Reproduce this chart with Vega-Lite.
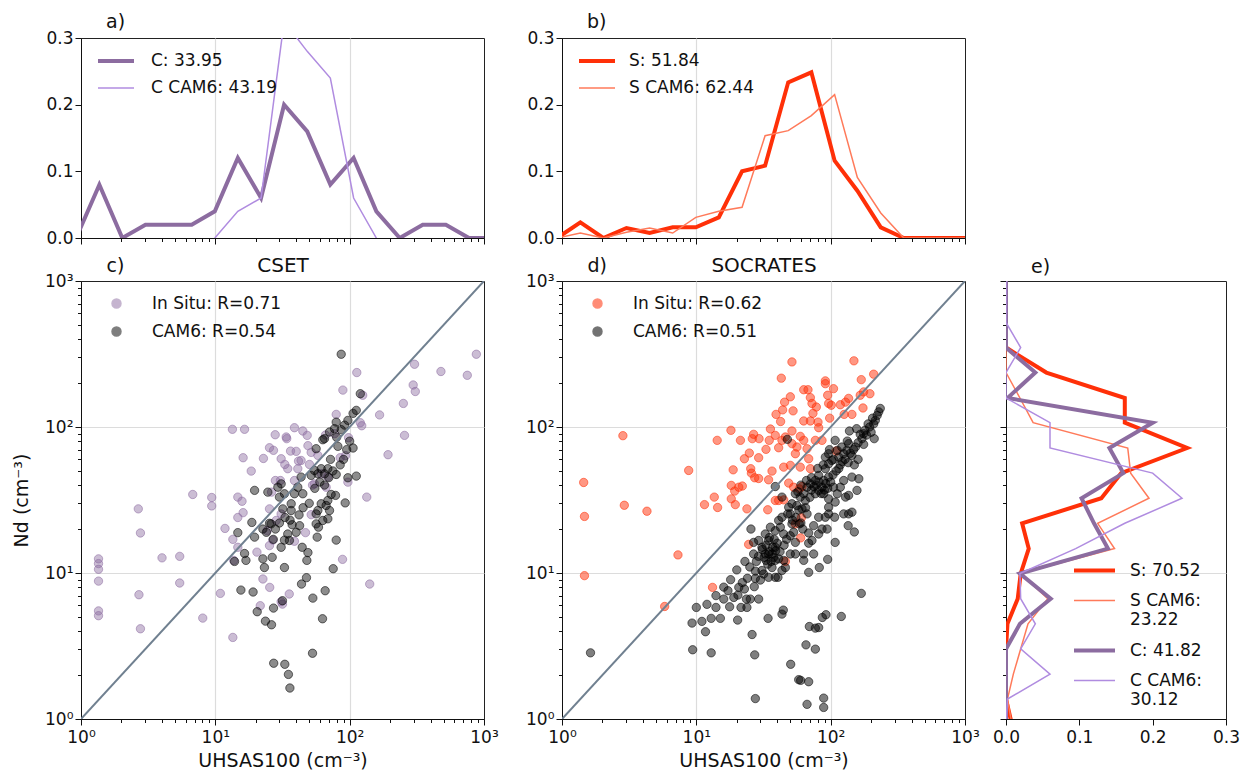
{
  "$schema": "https://vega.github.io/schema/vega-lite/v6.json",
  "background": "white",
  "padding": {"left": 12, "top": 12, "right": 0, "bottom": 0},
  "datasets": {
    "uhsasHist": [
      {"campaign": "CSET", "series": "C: 33.95", "uhsas": 0.92, "fraction": 0},
      {"campaign": "CSET", "series": "C: 33.95", "uhsas": 1.37, "fraction": 0.08},
      {"campaign": "CSET", "series": "C: 33.95", "uhsas": 2.03, "fraction": 0},
      {"campaign": "CSET", "series": "C: 33.95", "uhsas": 3.02, "fraction": 0.02},
      {"campaign": "CSET", "series": "C: 33.95", "uhsas": 4.49, "fraction": 0.02},
      {"campaign": "CSET", "series": "C: 33.95", "uhsas": 6.67, "fraction": 0.02},
      {"campaign": "CSET", "series": "C: 33.95", "uhsas": 9.91, "fraction": 0.04},
      {"campaign": "CSET", "series": "C: 33.95", "uhsas": 14.7, "fraction": 0.12},
      {"campaign": "CSET", "series": "C: 33.95", "uhsas": 21.9, "fraction": 0.06},
      {"campaign": "CSET", "series": "C: 33.95", "uhsas": 32.5, "fraction": 0.2},
      {"campaign": "CSET", "series": "C: 33.95", "uhsas": 48.3, "fraction": 0.16},
      {"campaign": "CSET", "series": "C: 33.95", "uhsas": 71.8, "fraction": 0.08},
      {"campaign": "CSET", "series": "C: 33.95", "uhsas": 107, "fraction": 0.12},
      {"campaign": "CSET", "series": "C: 33.95", "uhsas": 158, "fraction": 0.04},
      {"campaign": "CSET", "series": "C: 33.95", "uhsas": 236, "fraction": 0},
      {"campaign": "CSET", "series": "C: 33.95", "uhsas": 350, "fraction": 0.02},
      {"campaign": "CSET", "series": "C: 33.95", "uhsas": 520, "fraction": 0.02},
      {"campaign": "CSET", "series": "C: 33.95", "uhsas": 773, "fraction": 0},
      {"campaign": "CSET", "series": "C: 33.95", "uhsas": 1148, "fraction": 0},
      {"campaign": "CSET", "series": "C CAM6: 43.19", "uhsas": 9.91, "fraction": 0},
      {"campaign": "CSET", "series": "C CAM6: 43.19", "uhsas": 14.7, "fraction": 0.04},
      {"campaign": "CSET", "series": "C CAM6: 43.19", "uhsas": 21.9, "fraction": 0.06},
      {"campaign": "CSET", "series": "C CAM6: 43.19", "uhsas": 32.5, "fraction": 0.325},
      {"campaign": "CSET", "series": "C CAM6: 43.19", "uhsas": 48.3, "fraction": 0.28},
      {"campaign": "CSET", "series": "C CAM6: 43.19", "uhsas": 71.8, "fraction": 0.24},
      {"campaign": "CSET", "series": "C CAM6: 43.19", "uhsas": 107, "fraction": 0.06},
      {"campaign": "CSET", "series": "C CAM6: 43.19", "uhsas": 158, "fraction": 0},
      {"campaign": "SOCRATES", "series": "S: 51.84", "uhsas": 0.92, "fraction": 0},
      {"campaign": "SOCRATES", "series": "S: 51.84", "uhsas": 1.37, "fraction": 0.0235},
      {"campaign": "SOCRATES", "series": "S: 51.84", "uhsas": 2.03, "fraction": 0},
      {"campaign": "SOCRATES", "series": "S: 51.84", "uhsas": 3.02, "fraction": 0.015},
      {"campaign": "SOCRATES", "series": "S: 51.84", "uhsas": 4.49, "fraction": 0.0075},
      {"campaign": "SOCRATES", "series": "S: 51.84", "uhsas": 6.67, "fraction": 0.016},
      {"campaign": "SOCRATES", "series": "S: 51.84", "uhsas": 9.91, "fraction": 0.016},
      {"campaign": "SOCRATES", "series": "S: 51.84", "uhsas": 14.7, "fraction": 0.031},
      {"campaign": "SOCRATES", "series": "S: 51.84", "uhsas": 21.9, "fraction": 0.1},
      {"campaign": "SOCRATES", "series": "S: 51.84", "uhsas": 32.5, "fraction": 0.1085},
      {"campaign": "SOCRATES", "series": "S: 51.84", "uhsas": 48.3, "fraction": 0.2335},
      {"campaign": "SOCRATES", "series": "S: 51.84", "uhsas": 71.8, "fraction": 0.2485},
      {"campaign": "SOCRATES", "series": "S: 51.84", "uhsas": 107, "fraction": 0.116},
      {"campaign": "SOCRATES", "series": "S: 51.84", "uhsas": 158, "fraction": 0.071},
      {"campaign": "SOCRATES", "series": "S: 51.84", "uhsas": 236, "fraction": 0.016},
      {"campaign": "SOCRATES", "series": "S: 51.84", "uhsas": 350, "fraction": 0},
      {"campaign": "SOCRATES", "series": "S: 51.84", "uhsas": 520, "fraction": 0},
      {"campaign": "SOCRATES", "series": "S: 51.84", "uhsas": 773, "fraction": 0},
      {"campaign": "SOCRATES", "series": "S: 51.84", "uhsas": 1148, "fraction": 0},
      {"campaign": "SOCRATES", "series": "S CAM6: 62.44", "uhsas": 0.92, "fraction": 0},
      {"campaign": "SOCRATES", "series": "S CAM6: 62.44", "uhsas": 1.37, "fraction": 0.0075},
      {"campaign": "SOCRATES", "series": "S CAM6: 62.44", "uhsas": 2.03, "fraction": 0},
      {"campaign": "SOCRATES", "series": "S CAM6: 62.44", "uhsas": 3.02, "fraction": 0.0085},
      {"campaign": "SOCRATES", "series": "S CAM6: 62.44", "uhsas": 4.49, "fraction": 0.015},
      {"campaign": "SOCRATES", "series": "S CAM6: 62.44", "uhsas": 6.67, "fraction": 0.0075},
      {"campaign": "SOCRATES", "series": "S CAM6: 62.44", "uhsas": 9.91, "fraction": 0.031},
      {"campaign": "SOCRATES", "series": "S CAM6: 62.44", "uhsas": 14.7, "fraction": 0.04},
      {"campaign": "SOCRATES", "series": "S CAM6: 62.44", "uhsas": 21.9, "fraction": 0.046},
      {"campaign": "SOCRATES", "series": "S CAM6: 62.44", "uhsas": 32.5, "fraction": 0.1535},
      {"campaign": "SOCRATES", "series": "S CAM6: 62.44", "uhsas": 48.3, "fraction": 0.161},
      {"campaign": "SOCRATES", "series": "S CAM6: 62.44", "uhsas": 71.8, "fraction": 0.1835},
      {"campaign": "SOCRATES", "series": "S CAM6: 62.44", "uhsas": 107, "fraction": 0.215},
      {"campaign": "SOCRATES", "series": "S CAM6: 62.44", "uhsas": 158, "fraction": 0.091},
      {"campaign": "SOCRATES", "series": "S CAM6: 62.44", "uhsas": 236, "fraction": 0.0375},
      {"campaign": "SOCRATES", "series": "S CAM6: 62.44", "uhsas": 350, "fraction": 0},
      {"campaign": "SOCRATES", "series": "S CAM6: 62.44", "uhsas": 520, "fraction": 0},
      {"campaign": "SOCRATES", "series": "S CAM6: 62.44", "uhsas": 773, "fraction": 0},
      {"campaign": "SOCRATES", "series": "S CAM6: 62.44", "uhsas": 1148, "fraction": 0}
    ],
    "ndHist": [
      {"series": "S: 70.52", "nd": 0.92, "fraction": 0.008},
      {"series": "S: 70.52", "nd": 1.37, "fraction": 0},
      {"series": "S: 70.52", "nd": 2.03, "fraction": 0},
      {"series": "S: 70.52", "nd": 3.02, "fraction": 0},
      {"series": "S: 70.52", "nd": 4.49, "fraction": 0.002},
      {"series": "S: 70.52", "nd": 6.67, "fraction": 0.016},
      {"series": "S: 70.52", "nd": 9.91, "fraction": 0.02},
      {"series": "S: 70.52", "nd": 14.7, "fraction": 0.031},
      {"series": "S: 70.52", "nd": 21.9, "fraction": 0.022},
      {"series": "S: 70.52", "nd": 32.5, "fraction": 0.13},
      {"series": "S: 70.52", "nd": 48.3, "fraction": 0.157},
      {"series": "S: 70.52", "nd": 71.8, "fraction": 0.247},
      {"series": "S: 70.52", "nd": 107, "fraction": 0.162},
      {"series": "S: 70.52", "nd": 158, "fraction": 0.162},
      {"series": "S: 70.52", "nd": 236, "fraction": 0.055},
      {"series": "S: 70.52", "nd": 350, "fraction": 0},
      {"series": "S: 70.52", "nd": 520, "fraction": 0},
      {"series": "S: 70.52", "nd": 773, "fraction": 0},
      {"series": "S: 70.52", "nd": 1148, "fraction": 0},
      {"series": "S CAM6: 23.22", "nd": 0.92, "fraction": 0.008},
      {"series": "S CAM6: 23.22", "nd": 1.37, "fraction": 0.002},
      {"series": "S CAM6: 23.22", "nd": 2.03, "fraction": 0.01},
      {"series": "S CAM6: 23.22", "nd": 3.02, "fraction": 0.02},
      {"series": "S CAM6: 23.22", "nd": 4.49, "fraction": 0.03},
      {"series": "S CAM6: 23.22", "nd": 6.67, "fraction": 0.057},
      {"series": "S CAM6: 23.22", "nd": 9.91, "fraction": 0.02},
      {"series": "S CAM6: 23.22", "nd": 14.7, "fraction": 0.148},
      {"series": "S CAM6: 23.22", "nd": 21.9, "fraction": 0.125},
      {"series": "S CAM6: 23.22", "nd": 32.5, "fraction": 0.195},
      {"series": "S CAM6: 23.22", "nd": 48.3, "fraction": 0.17},
      {"series": "S CAM6: 23.22", "nd": 71.8, "fraction": 0.166},
      {"series": "S CAM6: 23.22", "nd": 107, "fraction": 0.037},
      {"series": "S CAM6: 23.22", "nd": 158, "fraction": 0.019},
      {"series": "S CAM6: 23.22", "nd": 236, "fraction": 0},
      {"series": "S CAM6: 23.22", "nd": 350, "fraction": 0},
      {"series": "S CAM6: 23.22", "nd": 520, "fraction": 0},
      {"series": "S CAM6: 23.22", "nd": 773, "fraction": 0},
      {"series": "S CAM6: 23.22", "nd": 1148, "fraction": 0},
      {"series": "C: 41.82", "nd": 0.92, "fraction": 0},
      {"series": "C: 41.82", "nd": 1.37, "fraction": 0},
      {"series": "C: 41.82", "nd": 2.03, "fraction": 0},
      {"series": "C: 41.82", "nd": 3.02, "fraction": 0},
      {"series": "C: 41.82", "nd": 4.49, "fraction": 0.019},
      {"series": "C: 41.82", "nd": 6.67, "fraction": 0.061},
      {"series": "C: 41.82", "nd": 9.91, "fraction": 0.019},
      {"series": "C: 41.82", "nd": 14.7, "fraction": 0.139},
      {"series": "C: 41.82", "nd": 21.9, "fraction": 0.12},
      {"series": "C: 41.82", "nd": 32.5, "fraction": 0.103},
      {"series": "C: 41.82", "nd": 48.3, "fraction": 0.16},
      {"series": "C: 41.82", "nd": 71.8, "fraction": 0.141},
      {"series": "C: 41.82", "nd": 107, "fraction": 0.2},
      {"series": "C: 41.82", "nd": 158, "fraction": 0.002},
      {"series": "C: 41.82", "nd": 236, "fraction": 0.04},
      {"series": "C: 41.82", "nd": 350, "fraction": 0},
      {"series": "C: 41.82", "nd": 520, "fraction": 0},
      {"series": "C: 41.82", "nd": 773, "fraction": 0},
      {"series": "C: 41.82", "nd": 1148, "fraction": 0},
      {"series": "C CAM6: 30.12", "nd": 0.92, "fraction": 0},
      {"series": "C CAM6: 30.12", "nd": 1.37, "fraction": 0.002},
      {"series": "C CAM6: 30.12", "nd": 2.03, "fraction": 0.06},
      {"series": "C CAM6: 30.12", "nd": 3.02, "fraction": 0.02},
      {"series": "C CAM6: 30.12", "nd": 4.49, "fraction": 0.04},
      {"series": "C CAM6: 30.12", "nd": 6.67, "fraction": 0.02},
      {"series": "C CAM6: 30.12", "nd": 9.91, "fraction": 0.019},
      {"series": "C CAM6: 30.12", "nd": 14.7, "fraction": 0.095},
      {"series": "C CAM6: 30.12", "nd": 21.9, "fraction": 0.162},
      {"series": "C CAM6: 30.12", "nd": 32.5, "fraction": 0.24},
      {"series": "C CAM6: 30.12", "nd": 48.3, "fraction": 0.2},
      {"series": "C CAM6: 30.12", "nd": 71.8, "fraction": 0.06},
      {"series": "C CAM6: 30.12", "nd": 107, "fraction": 0.06},
      {"series": "C CAM6: 30.12", "nd": 158, "fraction": 0},
      {"series": "C CAM6: 30.12", "nd": 236, "fraction": 0},
      {"series": "C CAM6: 30.12", "nd": 350, "fraction": 0.02},
      {"series": "C CAM6: 30.12", "nd": 520, "fraction": 0},
      {"series": "C CAM6: 30.12", "nd": 773, "fraction": 0},
      {"series": "C CAM6: 30.12", "nd": 1148, "fraction": 0}
    ],
    "identity": [{"v": 1}, {"v": 1000}],
    "csetInSitu": [
      {"uhsas": 1.35, "nd": 12.5}, {"uhsas": 1.35, "nd": 11.6}, {"uhsas": 1.35, "nd": 10.6}, {"uhsas": 1.35, "nd": 8.8}, {"uhsas": 1.35, "nd": 5.5}, {"uhsas": 1.35, "nd": 5.1},
      {"uhsas": 2.67, "nd": 27.5}, {"uhsas": 2.77, "nd": 18.8}, {"uhsas": 2.7, "nd": 7.1}, {"uhsas": 2.77, "nd": 4.15},
      {"uhsas": 4.01, "nd": 12.7}, {"uhsas": 5.43, "nd": 13.0}, {"uhsas": 5.43, "nd": 8.54},
      {"uhsas": 6.79, "nd": 34.5}, {"uhsas": 9.4, "nd": 32.9}, {"uhsas": 9.4, "nd": 28.8}, {"uhsas": 8.06, "nd": 4.91},
      {"uhsas": 10.9, "nd": 7.25}, {"uhsas": 11.8, "nd": 20.2}, {"uhsas": 13.5, "nd": 3.62}, {"uhsas": 13.5, "nd": 17.0}, {"uhsas": 13.7, "nd": 12.2}, {"uhsas": 14.7, "nd": 15.0}, {"uhsas": 13.4, "nd": 96.4}, {"uhsas": 16.5, "nd": 96.4}, {"uhsas": 16.1, "nd": 61.6}, {"uhsas": 18.5, "nd": 49.9}, {"uhsas": 14.7, "nd": 33.1}, {"uhsas": 15.8, "nd": 31.0}, {"uhsas": 16.1, "nd": 25.9}, {"uhsas": 14.7, "nd": 24.0},
      {"uhsas": 20.4, "nd": 13.9}, {"uhsas": 21.6, "nd": 5.97}, {"uhsas": 22.8, "nd": 60.9}, {"uhsas": 24.3, "nd": 19.5}, {"uhsas": 25.4, "nd": 7.97}, {"uhsas": 25.3, "nd": 72.1}, {"uhsas": 27.1, "nd": 69.2}, {"uhsas": 27.9, "nd": 88.5}, {"uhsas": 26.8, "nd": 16.8}, {"uhsas": 25.3, "nd": 15.4},
      {"uhsas": 30.9, "nd": 60.6}, {"uhsas": 31.6, "nd": 6.12}, {"uhsas": 32.9, "nd": 55.4}, {"uhsas": 33.7, "nd": 85.4}, {"uhsas": 34.0, "nd": 83.2}, {"uhsas": 35.5, "nd": 7.18}, {"uhsas": 36.3, "nd": 68.4}, {"uhsas": 38.8, "nd": 98.9}, {"uhsas": 40.0, "nd": 68.1}, {"uhsas": 41.6, "nd": 58.4},
      {"uhsas": 44.8, "nd": 93.9}, {"uhsas": 48.3, "nd": 87.6}, {"uhsas": 48.9, "nd": 74.5}, {"uhsas": 51.7, "nd": 67.0}, {"uhsas": 50.2, "nd": 55.4}, {"uhsas": 38.8, "nd": 16.5}, {"uhsas": 46.9, "nd": 18.9}, {"uhsas": 51.7, "nd": 25.1}, {"uhsas": 52.9, "nd": 40.0}, {"uhsas": 58.0, "nd": 63.9},
      {"uhsas": 66.1, "nd": 88.1}, {"uhsas": 79.4, "nd": 122}, {"uhsas": 89.0, "nd": 179}, {"uhsas": 113, "nd": 236}, {"uhsas": 125, "nd": 165}, {"uhsas": 88.5, "nd": 12.4}, {"uhsas": 85.0, "nd": 61.6}, {"uhsas": 93.1, "nd": 63.6}, {"uhsas": 98.1, "nd": 84.5}, {"uhsas": 120, "nd": 107},
      {"uhsas": 123, "nd": 102}, {"uhsas": 167, "nd": 121}, {"uhsas": 251, "nd": 145}, {"uhsas": 297, "nd": 194}, {"uhsas": 308, "nd": 175}, {"uhsas": 304, "nd": 269}, {"uhsas": 478, "nd": 240}, {"uhsas": 751, "nd": 226}, {"uhsas": 877, "nd": 315}, {"uhsas": 256, "nd": 87.6},
      {"uhsas": 193, "nd": 64.6}, {"uhsas": 134, "nd": 33.1}, {"uhsas": 141, "nd": 8.4}, {"uhsas": 30.5, "nd": 43.0}, {"uhsas": 28.0, "nd": 43.0}, {"uhsas": 26.2, "nd": 35.8}, {"uhsas": 25.3, "nd": 27.5}, {"uhsas": 28.4, "nd": 22.9}, {"uhsas": 30.9, "nd": 25.4}, {"uhsas": 38.8, "nd": 43.0},
      {"uhsas": 68.8, "nd": 45.4}, {"uhsas": 66.8, "nd": 38.7}, {"uhsas": 97.0, "nd": 41.9}, {"uhsas": 34.6, "nd": 51.8}, {"uhsas": 41.1, "nd": 51.8}, {"uhsas": 43.5, "nd": 59.0}, {"uhsas": 54.7, "nd": 40.8}, {"uhsas": 61.4, "nd": 47.8}, {"uhsas": 77.1, "nd": 90.0}, {"uhsas": 22.6, "nd": 9.1},
      {"uhsas": 30.9, "nd": 6.36}
    ],
    "csetCam6": [
      {"uhsas": 86.5, "nd": 315}, {"uhsas": 120, "nd": 169}, {"uhsas": 112, "nd": 130}, {"uhsas": 106, "nd": 124}, {"uhsas": 97.0, "nd": 111}, {"uhsas": 91.6, "nd": 103}, {"uhsas": 86.5, "nd": 95.9}, {"uhsas": 79.4, "nd": 108}, {"uhsas": 77.1, "nd": 97.4}, {"uhsas": 70.8, "nd": 92.4},
      {"uhsas": 65.0, "nd": 83.2}, {"uhsas": 63.1, "nd": 81.8}, {"uhsas": 81.7, "nd": 73.7}, {"uhsas": 106, "nd": 71.8}, {"uhsas": 56.3, "nd": 71.0}, {"uhsas": 54.7, "nd": 50.4}, {"uhsas": 61.4, "nd": 51.8}, {"uhsas": 68.8, "nd": 51.8}, {"uhsas": 79.4, "nd": 47.3}, {"uhsas": 97.0, "nd": 44.9},
      {"uhsas": 112, "nd": 46.1}, {"uhsas": 51.7, "nd": 46.6}, {"uhsas": 43.5, "nd": 45.4}, {"uhsas": 41.1, "nd": 38.7}, {"uhsas": 44.8, "nd": 34.9}, {"uhsas": 38.8, "nd": 34.9}, {"uhsas": 30.9, "nd": 40.8}, {"uhsas": 29.2, "nd": 38.7}, {"uhsas": 32.7, "nd": 34.9}, {"uhsas": 30.0, "nd": 33.1},
      {"uhsas": 19.6, "nd": 36.8}, {"uhsas": 36.7, "nd": 29.8}, {"uhsas": 36.7, "nd": 26.8}, {"uhsas": 31.8, "nd": 27.5}, {"uhsas": 25.3, "nd": 21.9}, {"uhsas": 26.0, "nd": 21.7}, {"uhsas": 22.6, "nd": 20.0}, {"uhsas": 19.6, "nd": 17.6}, {"uhsas": 18.7, "nd": 22.2}, {"uhsas": 14.7, "nd": 18.9},
      {"uhsas": 16.5, "nd": 13.6}, {"uhsas": 16.9, "nd": 12.2}, {"uhsas": 13.9, "nd": 12.0}, {"uhsas": 22.6, "nd": 12.5}, {"uhsas": 23.2, "nd": 10.9}, {"uhsas": 26.5, "nd": 12.8}, {"uhsas": 30.9, "nd": 15.0}, {"uhsas": 32.7, "nd": 10.9}, {"uhsas": 37.3, "nd": 21.4}, {"uhsas": 42.4, "nd": 21.1},
      {"uhsas": 40.0, "nd": 19.0}, {"uhsas": 34.6, "nd": 18.5}, {"uhsas": 35.6, "nd": 16.7}, {"uhsas": 32.7, "nd": 16.8}, {"uhsas": 44.3, "nd": 15.0}, {"uhsas": 48.9, "nd": 13.8}, {"uhsas": 48.0, "nd": 12.2}, {"uhsas": 57.3, "nd": 17.6}, {"uhsas": 58.6, "nd": 20.6}, {"uhsas": 63.1, "nd": 22.9},
      {"uhsas": 56.3, "nd": 25.4}, {"uhsas": 58.0, "nd": 26.8}, {"uhsas": 61.4, "nd": 29.8}, {"uhsas": 68.8, "nd": 31.4}, {"uhsas": 70.8, "nd": 26.8}, {"uhsas": 68.8, "nd": 23.5}, {"uhsas": 72.8, "nd": 34.5}, {"uhsas": 78.5, "nd": 34.0}, {"uhsas": 79.4, "nd": 16.8}, {"uhsas": 92.6, "nd": 30.2},
      {"uhsas": 75.4, "nd": 10.7}, {"uhsas": 47.7, "nd": 9.29}, {"uhsas": 43.8, "nd": 8.4}, {"uhsas": 65.7, "nd": 7.56}, {"uhsas": 53.2, "nd": 6.73}, {"uhsas": 31.6, "nd": 6.46}, {"uhsas": 27.1, "nd": 5.75}, {"uhsas": 20.5, "nd": 5.43}, {"uhsas": 23.6, "nd": 4.68}, {"uhsas": 26.2, "nd": 4.42},
      {"uhsas": 62.8, "nd": 4.86}, {"uhsas": 15.5, "nd": 7.64}, {"uhsas": 19.1, "nd": 7.41}, {"uhsas": 52.9, "nd": 2.82}, {"uhsas": 27.2, "nd": 2.41}, {"uhsas": 32.9, "nd": 2.37}, {"uhsas": 35.0, "nd": 2.02}, {"uhsas": 35.9, "nd": 1.63}, {"uhsas": 66.8, "nd": 29.0}, {"uhsas": 56.3, "nd": 21.7},
      {"uhsas": 24.6, "nd": 35.8}, {"uhsas": 58.0, "nd": 47.8}, {"uhsas": 65.0, "nd": 47.8},
      {"uhsas": 65, "nd": 40}, {"uhsas": 70, "nd": 45}, {"uhsas": 75, "nd": 50}, {"uhsas": 85, "nd": 55}, {"uhsas": 90, "nd": 60}, {"uhsas": 95, "nd": 70}, {"uhsas": 100, "nd": 80}, {"uhsas": 72, "nd": 60}, {"uhsas": 60, "nd": 42}, {"uhsas": 55, "nd": 38},
      {"uhsas": 50, "nd": 30}, {"uhsas": 45, "nd": 28}, {"uhsas": 42, "nd": 25}, {"uhsas": 28, "nd": 20}, {"uhsas": 30, "nd": 22}, {"uhsas": 33, "nd": 24}, {"uhsas": 24, "nd": 19}, {"uhsas": 27, "nd": 17}, {"uhsas": 36, "nd": 23}, {"uhsas": 80, "nd": 85}
    ],
    "socratesInSitu": [
      {"uhsas": 1.45, "nd": 41.7}, {"uhsas": 1.47, "nd": 24.4}, {"uhsas": 1.47, "nd": 9.59}, {"uhsas": 2.84, "nd": 87.2}, {"uhsas": 2.91, "nd": 29.1}, {"uhsas": 4.29, "nd": 26.5}, {"uhsas": 7.3, "nd": 13.3}, {"uhsas": 8.77, "nd": 50.4}, {"uhsas": 5.81, "nd": 5.9}, {"uhsas": 13.2, "nd": 7.97},
      {"uhsas": 11.5, "nd": 29.4}, {"uhsas": 13.6, "nd": 33.1}, {"uhsas": 14.4, "nd": 28.1}, {"uhsas": 14.3, "nd": 81.0}, {"uhsas": 18.1, "nd": 94.9}, {"uhsas": 18.8, "nd": 50.9}, {"uhsas": 18.2, "nd": 39.8}, {"uhsas": 19.3, "nd": 36.4}, {"uhsas": 18.2, "nd": 32.2}, {"uhsas": 19.5, "nd": 29.4},
      {"uhsas": 22.0, "nd": 39.4}, {"uhsas": 20.7, "nd": 38.7}, {"uhsas": 21.3, "nd": 81.0}, {"uhsas": 22.8, "nd": 60.6}, {"uhsas": 23.8, "nd": 27.5}, {"uhsas": 24.5, "nd": 15.7}, {"uhsas": 24.8, "nd": 66.3}, {"uhsas": 25.4, "nd": 51.8}, {"uhsas": 26.1, "nd": 83.2}, {"uhsas": 26.7, "nd": 89.1},
      {"uhsas": 29.3, "nd": 83.2}, {"uhsas": 29.1, "nd": 61.6}, {"uhsas": 27.2, "nd": 44.9}, {"uhsas": 29.1, "nd": 44.4}, {"uhsas": 25.7, "nd": 48.3}, {"uhsas": 34.5, "nd": 43.5}, {"uhsas": 36.6, "nd": 49.9}, {"uhsas": 33.0, "nd": 70.3}, {"uhsas": 34.9, "nd": 81.0}, {"uhsas": 35.6, "nd": 96.9},
      {"uhsas": 38.7, "nd": 87.6}, {"uhsas": 41.0, "nd": 72.1}, {"uhsas": 42.4, "nd": 109}, {"uhsas": 39.2, "nd": 122}, {"uhsas": 43.9, "nd": 131}, {"uhsas": 45.4, "nd": 148}, {"uhsas": 50.1, "nd": 161}, {"uhsas": 52.5, "nd": 129}, {"uhsas": 51.5, "nd": 93.9}, {"uhsas": 42.9, "nd": 216},
      {"uhsas": 51.5, "nd": 279}, {"uhsas": 43.4, "nd": 81.0}, {"uhsas": 46.0, "nd": 85.4}, {"uhsas": 51.5, "nd": 76.9}, {"uhsas": 56.1, "nd": 72.9}, {"uhsas": 54.6, "nd": 65.6}, {"uhsas": 59.4, "nd": 86.3}, {"uhsas": 63.0, "nd": 81.0}, {"uhsas": 66.7, "nd": 71.0}, {"uhsas": 68.6, "nd": 60.6},
      {"uhsas": 70.6, "nd": 51.8}, {"uhsas": 59.4, "nd": 53.1}, {"uhsas": 50.1, "nd": 54.6}, {"uhsas": 44.7, "nd": 53.1}, {"uhsas": 48.7, "nd": 41.3}, {"uhsas": 53.0, "nd": 38.7}, {"uhsas": 58.4, "nd": 37.7}, {"uhsas": 61.2, "nd": 39.1}, {"uhsas": 34.0, "nd": 27.1}, {"uhsas": 38.7, "nd": 31.4},
      {"uhsas": 41.0, "nd": 31.4}, {"uhsas": 44.7, "nd": 31.7}, {"uhsas": 54.6, "nd": 21.7}, {"uhsas": 60.5, "nd": 23.9}, {"uhsas": 59.8, "nd": 17.4}, {"uhsas": 46.0, "nd": 12.0}, {"uhsas": 63.0, "nd": 180}, {"uhsas": 67.8, "nd": 180}, {"uhsas": 70.6, "nd": 159}, {"uhsas": 72.6, "nd": 145},
      {"uhsas": 78.2, "nd": 137}, {"uhsas": 73.8, "nd": 124}, {"uhsas": 63.0, "nd": 110}, {"uhsas": 70.6, "nd": 110}, {"uhsas": 80.5, "nd": 108}, {"uhsas": 81.4, "nd": 98.9}, {"uhsas": 91.3, "nd": 207}, {"uhsas": 91.3, "nd": 198}, {"uhsas": 95.0, "nd": 165}, {"uhsas": 105, "nd": 183},
      {"uhsas": 96.6, "nd": 145}, {"uhsas": 101, "nd": 141}, {"uhsas": 98.3, "nd": 115}, {"uhsas": 86.2, "nd": 81.0}, {"uhsas": 76.9, "nd": 81.0}, {"uhsas": 110, "nd": 68.4}, {"uhsas": 118, "nd": 142}, {"uhsas": 129, "nd": 148}, {"uhsas": 136, "nd": 157}, {"uhsas": 126, "nd": 122},
      {"uhsas": 144, "nd": 122}, {"uhsas": 149, "nd": 284}, {"uhsas": 169, "nd": 211}, {"uhsas": 176, "nd": 174}, {"uhsas": 196, "nd": 169}, {"uhsas": 209, "nd": 230}, {"uhsas": 174, "nd": 135}, {"uhsas": 166, "nd": 165}
    ],
    "socratesCam6": [
      {"uhsas": 1.63, "nd": 2.84}, {"uhsas": 9.29, "nd": 4.54}, {"uhsas": 9.39, "nd": 2.98}, {"uhsas": 10.0, "nd": 5.81}, {"uhsas": 11.0, "nd": 4.66}, {"uhsas": 11.7, "nd": 3.96}, {"uhsas": 12.9, "nd": 2.84}, {"uhsas": 12.9, "nd": 4.89}, {"uhsas": 15.1, "nd": 4.89}, {"uhsas": 14.0, "nd": 5.81},
      {"uhsas": 16.0, "nd": 6.63}, {"uhsas": 17.2, "nd": 7.56}, {"uhsas": 17.7, "nd": 5.87}, {"uhsas": 20.4, "nd": 7.06}, {"uhsas": 20.3, "nd": 4.76}, {"uhsas": 20.7, "nd": 7.97}, {"uhsas": 21.5, "nd": 5.81}, {"uhsas": 22.8, "nd": 7.77}, {"uhsas": 23.6, "nd": 6.63}, {"uhsas": 23.8, "nd": 5.81},
      {"uhsas": 25.2, "nd": 6.63}, {"uhsas": 26.0, "nd": 3.79}, {"uhsas": 27.2, "nd": 2.75}, {"uhsas": 29.1, "nd": 6.63}, {"uhsas": 27.0, "nd": 8.06}, {"uhsas": 27.5, "nd": 9.19}, {"uhsas": 30.0, "nd": 8.95}, {"uhsas": 31.7, "nd": 9.84}, {"uhsas": 27.5, "nd": 10.3}, {"uhsas": 25.5, "nd": 20.0},
      {"uhsas": 26.7, "nd": 16.2}, {"uhsas": 26.7, "nd": 13.5}, {"uhsas": 29.1, "nd": 16.7}, {"uhsas": 30.8, "nd": 15.0}, {"uhsas": 32.6, "nd": 13.5}, {"uhsas": 33.0, "nd": 12.2}, {"uhsas": 34.5, "nd": 16.7}, {"uhsas": 34.5, "nd": 13.5}, {"uhsas": 36.6, "nd": 13.5}, {"uhsas": 37.6, "nd": 12.8},
      {"uhsas": 38.7, "nd": 12.2}, {"uhsas": 36.6, "nd": 10.9}, {"uhsas": 38.7, "nd": 9.34}, {"uhsas": 34.5, "nd": 9.34}, {"uhsas": 40.5, "nd": 9.34}, {"uhsas": 43.4, "nd": 10.4}, {"uhsas": 44.7, "nd": 12.2}, {"uhsas": 38.7, "nd": 19.5}, {"uhsas": 41.0, "nd": 22.9}, {"uhsas": 43.4, "nd": 24.1},
      {"uhsas": 44.7, "nd": 18.5}, {"uhsas": 47.9, "nd": 25.4}, {"uhsas": 51.5, "nd": 21.7}, {"uhsas": 53.0, "nd": 19.0}, {"uhsas": 54.6, "nd": 16.2}, {"uhsas": 58.4, "nd": 21.7}, {"uhsas": 56.1, "nd": 29.0}, {"uhsas": 61.2, "nd": 27.5}, {"uhsas": 66.7, "nd": 25.4}, {"uhsas": 68.6, "nd": 18.8},
      {"uhsas": 68.6, "nd": 16.0}, {"uhsas": 72.6, "nd": 16.7}, {"uhsas": 74.7, "nd": 13.5}, {"uhsas": 63.0, "nd": 13.5}, {"uhsas": 63.0, "nd": 12.2}, {"uhsas": 68.6, "nd": 10.1}, {"uhsas": 82.3, "nd": 10.9}, {"uhsas": 95.0, "nd": 12.4}, {"uhsas": 81.4, "nd": 18.5}, {"uhsas": 86.2, "nd": 20.0},
      {"uhsas": 94.0, "nd": 20.0}, {"uhsas": 74.7, "nd": 21.1}, {"uhsas": 81.4, "nd": 24.1}, {"uhsas": 91.3, "nd": 24.1}, {"uhsas": 96.6, "nd": 25.4}, {"uhsas": 107, "nd": 24.1}, {"uhsas": 108, "nd": 16.2}, {"uhsas": 125, "nd": 25.4}, {"uhsas": 136, "nd": 25.4}, {"uhsas": 144, "nd": 26.1},
      {"uhsas": 135, "nd": 21.1}, {"uhsas": 150, "nd": 19.1}, {"uhsas": 136, "nd": 34.0}, {"uhsas": 157, "nd": 36.8}, {"uhsas": 162, "nd": 44.2}, {"uhsas": 144, "nd": 45.4}, {"uhsas": 125, "nd": 43.0}, {"uhsas": 118, "nd": 38.7}, {"uhsas": 112, "nd": 34.9}, {"uhsas": 108, "nd": 30.6},
      {"uhsas": 96.6, "nd": 32.2}, {"uhsas": 88.7, "nd": 34.9}, {"uhsas": 81.4, "nd": 36.8}, {"uhsas": 76.9, "nd": 34.9}, {"uhsas": 86.2, "nd": 38.7}, {"uhsas": 88.7, "nd": 43.0}, {"uhsas": 96.6, "nd": 45.4}, {"uhsas": 70.6, "nd": 40.8}, {"uhsas": 66.7, "nd": 38.7}, {"uhsas": 63.0, "nd": 34.9},
      {"uhsas": 64.8, "nd": 31.4}, {"uhsas": 76.9, "nd": 43.0}, {"uhsas": 81.4, "nd": 46.6}, {"uhsas": 91.3, "nd": 51.8}, {"uhsas": 96.6, "nd": 56.0}, {"uhsas": 102, "nd": 59.0}, {"uhsas": 115, "nd": 62.2}, {"uhsas": 125, "nd": 65.6}, {"uhsas": 132, "nd": 69.2}, {"uhsas": 144, "nd": 63.9},
      {"uhsas": 153, "nd": 72.9}, {"uhsas": 136, "nd": 76.9}, {"uhsas": 121, "nd": 72.9}, {"uhsas": 112, "nd": 69.2}, {"uhsas": 96.6, "nd": 65.6}, {"uhsas": 91.3, "nd": 62.2}, {"uhsas": 108, "nd": 81.0}, {"uhsas": 133, "nd": 80.1}, {"uhsas": 138, "nd": 93.9}, {"uhsas": 156, "nd": 97.4},
      {"uhsas": 166, "nd": 89.1}, {"uhsas": 171, "nd": 83.2}, {"uhsas": 176, "nd": 76.0}, {"uhsas": 190, "nd": 105}, {"uhsas": 209, "nd": 105}, {"uhsas": 215, "nd": 111}, {"uhsas": 228, "nd": 127}, {"uhsas": 234, "nd": 134}, {"uhsas": 211, "nd": 83.2}, {"uhsas": 176, "nd": 90.0},
      {"uhsas": 38.7, "nd": 39.1}, {"uhsas": 43.4, "nd": 33.1}, {"uhsas": 47.6, "nd": 82.3}, {"uhsas": 48.7, "nd": 28.2}, {"uhsas": 38.7, "nd": 15.0}, {"uhsas": 46.0, "nd": 10.9}, {"uhsas": 50.1, "nd": 13.5}, {"uhsas": 32.6, "nd": 18.5}, {"uhsas": 35.6, "nd": 20.6}, {"uhsas": 42.2, "nd": 20.6},
      {"uhsas": 54.6, "nd": 13.5}, {"uhsas": 169, "nd": 7.25}, {"uhsas": 120, "nd": 5.04}, {"uhsas": 86.7, "nd": 4.96}, {"uhsas": 92.3, "nd": 5.18}, {"uhsas": 69.4, "nd": 4.3}, {"uhsas": 76.9, "nd": 4.19}, {"uhsas": 81.4, "nd": 4.23}, {"uhsas": 65.5, "nd": 3.22}, {"uhsas": 76.9, "nd": 3.01},
      {"uhsas": 50.4, "nd": 2.37}, {"uhsas": 57.8, "nd": 1.86}, {"uhsas": 68.6, "nd": 1.8}, {"uhsas": 59.8, "nd": 1.84}, {"uhsas": 27.5, "nd": 1.38}, {"uhsas": 66.7, "nd": 1.26}, {"uhsas": 88.7, "nd": 1.39}, {"uhsas": 88.7, "nd": 1.2}, {"uhsas": 44.4, "nd": 5.57}, {"uhsas": 43.4, "nd": 5.23},
      {"uhsas": 34.2, "nd": 4.89}, {"uhsas": 129, "nd": 33.1}, {"uhsas": 105, "nd": 38.7}, {"uhsas": 96.6, "nd": 28.2}, {"uhsas": 59.4, "nd": 33.1}, {"uhsas": 54.6, "nd": 34.9}, {"uhsas": 51.5, "nd": 29.8}, {"uhsas": 50.1, "nd": 25.4}, {"uhsas": 30.8, "nd": 10.4},
      {"uhsas": 31, "nd": 14.5}, {"uhsas": 33, "nd": 15.5}, {"uhsas": 35, "nd": 14}, {"uhsas": 37, "nd": 15}, {"uhsas": 39, "nd": 14.2}, {"uhsas": 36, "nd": 12}, {"uhsas": 34, "nd": 11.5}, {"uhsas": 32, "nd": 12.8}, {"uhsas": 40, "nd": 16}, {"uhsas": 42, "nd": 14},
      {"uhsas": 29, "nd": 13}, {"uhsas": 28, "nd": 12}, {"uhsas": 35, "nd": 17.5}, {"uhsas": 38, "nd": 17}, {"uhsas": 41, "nd": 12.5}, {"uhsas": 45, "nd": 15.5}, {"uhsas": 47, "nd": 17}, {"uhsas": 50, "nd": 18}, {"uhsas": 52, "nd": 23}, {"uhsas": 55, "nd": 24},
      {"uhsas": 60, "nd": 22}, {"uhsas": 62, "nd": 20}, {"uhsas": 58, "nd": 27}, {"uhsas": 65, "nd": 28}, {"uhsas": 70, "nd": 33}, {"uhsas": 72, "nd": 37}, {"uhsas": 75, "nd": 39}, {"uhsas": 78, "nd": 40}, {"uhsas": 82, "nd": 42}, {"uhsas": 85, "nd": 35},
      {"uhsas": 90, "nd": 37}, {"uhsas": 92, "nd": 41}, {"uhsas": 95, "nd": 38}, {"uhsas": 100, "nd": 42}, {"uhsas": 104, "nd": 47}, {"uhsas": 110, "nd": 50}, {"uhsas": 118, "nd": 55}, {"uhsas": 122, "nd": 58}, {"uhsas": 128, "nd": 60}, {"uhsas": 135, "nd": 57},
      {"uhsas": 140, "nd": 66}, {"uhsas": 148, "nd": 70}, {"uhsas": 160, "nd": 78}, {"uhsas": 180, "nd": 95}, {"uhsas": 195, "nd": 100}, {"uhsas": 205, "nd": 115}, {"uhsas": 222, "nd": 120}, {"uhsas": 200, "nd": 92}, {"uhsas": 185, "nd": 88}, {"uhsas": 160, "nd": 60},
      {"uhsas": 150, "nd": 55}, {"uhsas": 115, "nd": 52}, {"uhsas": 105, "nd": 60}, {"uhsas": 98, "nd": 70}, {"uhsas": 88, "nd": 55}, {"uhsas": 80, "nd": 52}, {"uhsas": 72, "nd": 45}, {"uhsas": 66, "nd": 43}, {"uhsas": 60, "nd": 40}, {"uhsas": 57, "nd": 36},
      {"uhsas": 24, "nd": 9.2}, {"uhsas": 22, "nd": 8.6}, {"uhsas": 25, "nd": 11}, {"uhsas": 23, "nd": 12}, {"uhsas": 20, "nd": 10.5}, {"uhsas": 18, "nd": 9}, {"uhsas": 16, "nd": 8}, {"uhsas": 14, "nd": 7}, {"uhsas": 19, "nd": 6.8}, {"uhsas": 12, "nd": 6.1}
    ]
  },
  "columns": 2,
  "align": "each",
  "bounds": "full",
  "spacing": {"row": 7, "column": 26},
  "resolve": {
    "scale": {"x": "independent", "y": "independent", "color": "independent", "stroke": "independent", "strokeWidth": "independent"},
    "axis": {"x": "independent", "y": "independent"},
    "legend": {"color": "independent", "stroke": "independent", "strokeWidth": "independent"}
  },
  "concat": [
    {
      "width": 403,
      "height": 200,
      "title": {"text": "a)", "anchor": "start", "frame": "group", "dx": 25, "offset": -3},
      "data": {"name": "uhsasHist"},
      "transform": [{"filter": "datum.campaign == 'CSET'"}],
      "mark": {"type": "line", "clip": true},
      "encoding": {
        "x": {
          "field": "uhsas", "type": "quantitative",
          "scale": {"type": "log", "domain": [1, 1000], "nice": false},
          "axis": {
            "title": null, "labels": false,
            "values": [1, 2, 3, 4, 5, 6, 7, 8, 9, 10, 20, 30, 40, 50, 60, 70, 80, 90, 100, 200, 300, 400, 500, 600, 700, 800, 900, 1000],
            "tickSize": {"condition": {"test": "datum.value == 1 || datum.value == 10 || datum.value == 100 || datum.value == 1000", "value": 6}, "value": 3.5},
            "grid": true,
            "gridOpacity": {"condition": {"test": "datum.value == 10 || datum.value == 100", "value": 1}, "value": 0}
          }
        },
        "y": {
          "field": "fraction", "type": "quantitative",
          "scale": {"domain": [0, 0.3], "nice": false},
          "axis": {"title": null, "values": [0, 0.1, 0.2, 0.3], "format": ".1f", "grid": false, "tickSize": 6}
        },
        "color": {
          "field": "series", "type": "nominal",
          "scale": {"domain": ["C: 33.95", "C CAM6: 43.19"], "range": ["#8c6ca0", "#b08ce0"]},
          "legend": {"title": null, "orient": "none", "legendX": 15, "legendY": 3, "symbolType": "stroke", "symbolSize": 1296, "labelOffset": 15, "rowPadding": -11}
        },
        "strokeWidth": {
          "field": "series", "type": "nominal",
          "scale": {"type": "ordinal", "domain": ["C: 33.95", "C CAM6: 43.19"], "range": [4, 1.5]},
          "legend": {"title": null, "orient": "none", "legendX": 15, "legendY": 3, "symbolType": "stroke", "symbolSize": 1296, "labelOffset": 15, "rowPadding": -11}
        }
      }
    },
    {
      "width": 403,
      "height": 200,
      "title": {"text": "b)", "anchor": "start", "frame": "group", "dx": 25, "offset": -3},
      "data": {"name": "uhsasHist"},
      "transform": [{"filter": "datum.campaign == 'SOCRATES'"}],
      "mark": {"type": "line", "clip": true},
      "encoding": {
        "x": {
          "field": "uhsas", "type": "quantitative",
          "scale": {"type": "log", "domain": [1, 1000], "nice": false},
          "axis": {
            "title": null, "labels": false,
            "values": [1, 2, 3, 4, 5, 6, 7, 8, 9, 10, 20, 30, 40, 50, 60, 70, 80, 90, 100, 200, 300, 400, 500, 600, 700, 800, 900, 1000],
            "tickSize": {"condition": {"test": "datum.value == 1 || datum.value == 10 || datum.value == 100 || datum.value == 1000", "value": 6}, "value": 3.5},
            "grid": true,
            "gridOpacity": {"condition": {"test": "datum.value == 10 || datum.value == 100", "value": 1}, "value": 0}
          }
        },
        "y": {
          "field": "fraction", "type": "quantitative",
          "scale": {"domain": [0, 0.3], "nice": false},
          "axis": {"title": null, "values": [0, 0.1, 0.2, 0.3], "format": ".1f", "grid": false, "tickSize": 6}
        },
        "color": {
          "field": "series", "type": "nominal",
          "scale": {"domain": ["S: 51.84", "S CAM6: 62.44"], "range": ["#ff3008", "#ff7a5a"]},
          "legend": {"title": null, "orient": "none", "legendX": 15, "legendY": 3, "symbolType": "stroke", "symbolSize": 1296, "labelOffset": 12, "rowPadding": -11}
        },
        "strokeWidth": {
          "field": "series", "type": "nominal",
          "scale": {"type": "ordinal", "domain": ["S: 51.84", "S CAM6: 62.44"], "range": [4, 1.5]},
          "legend": {"title": null, "orient": "none", "legendX": 15, "legendY": 3, "symbolType": "stroke", "symbolSize": 1296, "labelOffset": 12, "rowPadding": -11}
        }
      }
    },
    {
      "width": 403,
      "height": 438,
      "layer": [
        {
          "data": {"name": "csetInSitu"},
          "mark": {"type": "circle", "size": 70, "fillOpacity": 0.45, "strokeOpacity": 0.55, "strokeWidth": 1},
          "encoding": {
            "x": {
              "field": "uhsas", "type": "quantitative",
              "scale": {"type": "log", "domain": [1, 1000], "nice": false},
              "axis": {
                "title": "UHSAS100 (cm⁻³)", "titlePadding": 6,
                "values": [1, 2, 3, 4, 5, 6, 7, 8, 9, 10, 20, 30, 40, 50, 60, 70, 80, 90, 100, 200, 300, 400, 500, 600, 700, 800, 900, 1000],
                "labelExpr": "datum.value == 1 ? '10⁰' : datum.value == 10 ? '10¹' : datum.value == 100 ? '10²' : datum.value == 1000 ? '10³' : ''",
                "tickSize": {"condition": {"test": "datum.value == 1 || datum.value == 10 || datum.value == 100 || datum.value == 1000", "value": 6}, "value": 3.5},
                "grid": true,
                "gridOpacity": {"condition": {"test": "datum.value == 10 || datum.value == 100", "value": 1}, "value": 0}
              }
            },
            "y": {
              "field": "nd", "type": "quantitative",
              "scale": {"type": "log", "domain": [1, 1000], "nice": false},
              "axis": {
                "title": "Nd (cm⁻³)", "titlePadding": 13,
                "values": [1, 2, 3, 4, 5, 6, 7, 8, 9, 10, 20, 30, 40, 50, 60, 70, 80, 90, 100, 200, 300, 400, 500, 600, 700, 800, 900, 1000],
                "labelExpr": "datum.value == 1 ? '10⁰' : datum.value == 10 ? '10¹' : datum.value == 100 ? '10²' : datum.value == 1000 ? '10³' : ''",
                "tickSize": {"condition": {"test": "datum.value == 1 || datum.value == 10 || datum.value == 100 || datum.value == 1000", "value": 6}, "value": 3.5},
                "grid": true,
                "gridOpacity": {"condition": {"test": "datum.value == 10 || datum.value == 100", "value": 1}, "value": 0}
              }
            },
            "color": {
              "datum": "In Situ: R=0.71", "type": "nominal",
              "scale": {"domain": ["In Situ: R=0.71", "CAM6: R=0.54"], "range": ["#8c6ca0", "#000000"]},
              "legend": {"title": null, "orient": "none", "legendX": 27, "legendY": 14, "symbolType": "circle", "symbolSize": 80, "symbolOpacity": 0.5, "labelOffset": 27, "rowPadding": 10}
            },
            "stroke": {
              "datum": "In Situ: R=0.71", "type": "nominal",
              "scale": {"domain": ["In Situ: R=0.71", "CAM6: R=0.54"], "range": ["#8c6ca0", "#000000"]},
              "legend": null
            }
          }
        },
        {
          "data": {"name": "csetCam6"},
          "mark": {"type": "circle", "size": 70, "fillOpacity": 0.45, "strokeOpacity": 0.55, "strokeWidth": 1},
          "encoding": {
            "x": {
              "field": "uhsas", "type": "quantitative",
              "scale": {"type": "log", "domain": [1, 1000], "nice": false},
              "axis": {"orient": "top", "title": "CSET", "titleFontSize": 20, "titlePadding": 6, "labels": false, "ticks": false, "domain": false, "grid": false}
            },
            "y": {"field": "nd", "type": "quantitative", "scale": {"type": "log", "domain": [1, 1000], "nice": false}, "axis": null},
            "color": {
              "datum": "CAM6: R=0.54", "type": "nominal",
              "scale": {"domain": ["In Situ: R=0.71", "CAM6: R=0.54"], "range": ["#8c6ca0", "#000000"]},
              "legend": {"title": null, "orient": "none", "legendX": 27, "legendY": 14, "symbolType": "circle", "symbolSize": 80, "symbolOpacity": 0.5, "labelOffset": 27, "rowPadding": 10}
            },
            "stroke": {
              "datum": "CAM6: R=0.54", "type": "nominal",
              "scale": {"domain": ["In Situ: R=0.71", "CAM6: R=0.54"], "range": ["#8c6ca0", "#000000"]},
              "legend": null
            }
          }
        },
        {
          "data": {"name": "identity"},
          "mark": {"type": "line", "color": "#708090", "strokeWidth": 2, "clip": true},
          "encoding": {
            "x": {
              "field": "v", "type": "quantitative",
              "scale": {"type": "log", "domain": [1, 1000], "nice": false},
              "axis": {"orient": "top", "title": "c)", "titleX": 25, "titleAlign": "left", "titlePadding": 6, "labels": false, "ticks": false, "domain": false, "grid": false}
            },
            "y": {"field": "v", "type": "quantitative", "scale": {"type": "log", "domain": [1, 1000], "nice": false}, "axis": null}
          }
        }
      ],
      "resolve": {"axis": {"x": "independent", "y": "independent"}}
    },
    {
      "spacing": 11,
      "bounds": "full",
      "resolve": {
        "scale": {"x": "independent", "y": "independent", "color": "independent", "stroke": "independent", "strokeWidth": "independent"},
        "axis": {"x": "independent", "y": "independent"},
        "legend": {"color": "independent", "stroke": "independent", "strokeWidth": "independent"}
      },
      "hconcat": [
        {
          "width": 403,
          "height": 438,
          "layer": [
            {
              "data": {"name": "socratesInSitu"},
              "mark": {"type": "circle", "size": 70, "fillOpacity": 0.5, "strokeOpacity": 0.55, "strokeWidth": 1},
              "encoding": {
                "x": {
                  "field": "uhsas", "type": "quantitative",
                  "scale": {"type": "log", "domain": [1, 1000], "nice": false},
                  "axis": {
                    "title": "UHSAS100 (cm⁻³)", "titlePadding": 6,
                    "values": [1, 2, 3, 4, 5, 6, 7, 8, 9, 10, 20, 30, 40, 50, 60, 70, 80, 90, 100, 200, 300, 400, 500, 600, 700, 800, 900, 1000],
                    "labelExpr": "datum.value == 1 ? '10⁰' : datum.value == 10 ? '10¹' : datum.value == 100 ? '10²' : datum.value == 1000 ? '10³' : ''",
                    "tickSize": {"condition": {"test": "datum.value == 1 || datum.value == 10 || datum.value == 100 || datum.value == 1000", "value": 6}, "value": 3.5},
                    "grid": true,
                    "gridOpacity": {"condition": {"test": "datum.value == 10 || datum.value == 100", "value": 1}, "value": 0}
                  }
                },
                "y": {
                  "field": "nd", "type": "quantitative",
                  "scale": {"type": "log", "domain": [1, 1000], "nice": false},
                  "axis": {
                    "title": null,
                    "values": [1, 2, 3, 4, 5, 6, 7, 8, 9, 10, 20, 30, 40, 50, 60, 70, 80, 90, 100, 200, 300, 400, 500, 600, 700, 800, 900, 1000],
                    "labelExpr": "datum.value == 1 ? '10⁰' : datum.value == 10 ? '10¹' : datum.value == 100 ? '10²' : datum.value == 1000 ? '10³' : ''",
                    "tickSize": {"condition": {"test": "datum.value == 1 || datum.value == 10 || datum.value == 100 || datum.value == 1000", "value": 6}, "value": 3.5},
                    "grid": true,
                    "gridOpacity": {"condition": {"test": "datum.value == 10 || datum.value == 100", "value": 1}, "value": 0}
                  }
                },
                "color": {
                  "datum": "In Situ: R=0.62", "type": "nominal",
                  "scale": {"domain": ["In Situ: R=0.62", "CAM6: R=0.51"], "range": ["#ff3008", "#000000"]},
                  "legend": {"title": null, "orient": "none", "legendX": 27, "legendY": 14, "symbolType": "circle", "symbolSize": 80, "symbolOpacity": 0.55, "labelOffset": 27, "rowPadding": 10}
                },
                "stroke": {
                  "datum": "In Situ: R=0.62", "type": "nominal",
                  "scale": {"domain": ["In Situ: R=0.62", "CAM6: R=0.51"], "range": ["#ff3008", "#000000"]},
                  "legend": null
                }
              }
            },
            {
              "data": {"name": "socratesCam6"},
              "mark": {"type": "circle", "size": 70, "fillOpacity": 0.5, "strokeOpacity": 0.55, "strokeWidth": 1},
              "encoding": {
                "x": {
                  "field": "uhsas", "type": "quantitative",
                  "scale": {"type": "log", "domain": [1, 1000], "nice": false},
                  "axis": {"orient": "top", "title": "SOCRATES", "titleFontSize": 20, "titlePadding": 6, "labels": false, "ticks": false, "domain": false, "grid": false}
                },
                "y": {"field": "nd", "type": "quantitative", "scale": {"type": "log", "domain": [1, 1000], "nice": false}, "axis": null},
                "color": {
                  "datum": "CAM6: R=0.51", "type": "nominal",
                  "scale": {"domain": ["In Situ: R=0.62", "CAM6: R=0.51"], "range": ["#ff3008", "#000000"]},
                  "legend": {"title": null, "orient": "none", "legendX": 27, "legendY": 14, "symbolType": "circle", "symbolSize": 80, "symbolOpacity": 0.55, "labelOffset": 27, "rowPadding": 10}
                },
                "stroke": {
                  "datum": "CAM6: R=0.51", "type": "nominal",
                  "scale": {"domain": ["In Situ: R=0.62", "CAM6: R=0.51"], "range": ["#ff3008", "#000000"]},
                  "legend": null
                }
              }
            },
            {
              "data": {"name": "identity"},
              "mark": {"type": "line", "color": "#708090", "strokeWidth": 2, "clip": true},
              "encoding": {
                "x": {
                  "field": "v", "type": "quantitative",
                  "scale": {"type": "log", "domain": [1, 1000], "nice": false},
                  "axis": {"orient": "top", "title": "d)", "titleX": 25, "titleAlign": "left", "titlePadding": 6, "labels": false, "ticks": false, "domain": false, "grid": false}
                },
                "y": {"field": "v", "type": "quantitative", "scale": {"type": "log", "domain": [1, 1000], "nice": false}, "axis": null}
              }
            }
          ],
          "resolve": {"axis": {"x": "independent", "y": "independent"}}
        },
        {
          "width": 220,
          "height": 438,
          "title": {"text": "e)", "anchor": "start", "frame": "group", "dx": 25, "offset": 4},
          "data": {"name": "ndHist"},
          "mark": {"type": "line", "clip": true},
          "encoding": {
            "y": {
              "field": "nd", "type": "quantitative",
              "scale": {"type": "log", "domain": [1, 1000], "nice": false},
              "axis": {
                "title": null, "labels": false,
                "values": [1, 2, 3, 4, 5, 6, 7, 8, 9, 10, 20, 30, 40, 50, 60, 70, 80, 90, 100, 200, 300, 400, 500, 600, 700, 800, 900, 1000],
                "tickSize": {"condition": {"test": "datum.value == 1 || datum.value == 10 || datum.value == 100 || datum.value == 1000", "value": 6}, "value": 3.5},
                "grid": true,
                "gridOpacity": {"condition": {"test": "datum.value == 10 || datum.value == 100", "value": 1}, "value": 0}
              }
            },
            "x": {
              "field": "fraction", "type": "quantitative",
              "scale": {"domain": [0, 0.3], "nice": false},
              "axis": {"title": null, "values": [0, 0.1, 0.2, 0.3], "format": ".1f", "grid": false, "tickSize": 6}
            },
            "order": {"field": "nd", "type": "quantitative"},
            "color": {
              "field": "series", "type": "nominal",
              "scale": {"domain": ["S: 70.52", "S CAM6: 23.22", "C: 41.82", "C CAM6: 30.12"], "range": ["#ff3008", "#ff7a5a", "#8c6ca0", "#b08ce0"]},
              "legend": {"title": null, "orient": "none", "legendX": 66, "legendY": 267, "symbolType": "stroke", "symbolSize": 1681, "labelOffset": 13, "rowPadding": -8, "labelExpr": "indexof(datum.label, 'CAM6') >= 0 ? [slice(datum.label, 0, 7), slice(datum.label, 8)] : datum.label"}
            },
            "strokeWidth": {
              "field": "series", "type": "nominal",
              "scale": {"type": "ordinal", "domain": ["S: 70.52", "S CAM6: 23.22", "C: 41.82", "C CAM6: 30.12"], "range": [4, 1.5, 4, 1.5]},
              "legend": {"title": null, "orient": "none", "legendX": 66, "legendY": 267, "symbolType": "stroke", "symbolSize": 1681, "labelOffset": 13, "rowPadding": -8, "labelExpr": "indexof(datum.label, 'CAM6') >= 0 ? [slice(datum.label, 0, 7), slice(datum.label, 8)] : datum.label"}
            }
          }
        }
      ]
    }
  ],
  "config": {
    "font": "DejaVu Sans",
    "view": {"stroke": "#222", "strokeWidth": 1},
    "axis": {
      "labelFontSize": 17, "labelColor": "#111", "labelPadding": 4, "labelFlush": false, "labelOverlap": false,
      "titleFontSize": 19, "titleFontWeight": "normal", "titleColor": "#111",
      "tickColor": "#111", "tickWidth": 1, "domainColor": "#111", "domainWidth": 1,
      "gridColor": "#dcdcdc", "gridWidth": 1.2
    },
    "axisY": {"labelPadding": 2},
    "legend": {"labelFontSize": 17, "labelColor": "#111", "padding": 0},
    "title": {"fontSize": 19, "fontWeight": "normal", "color": "#111"}
  }
}
